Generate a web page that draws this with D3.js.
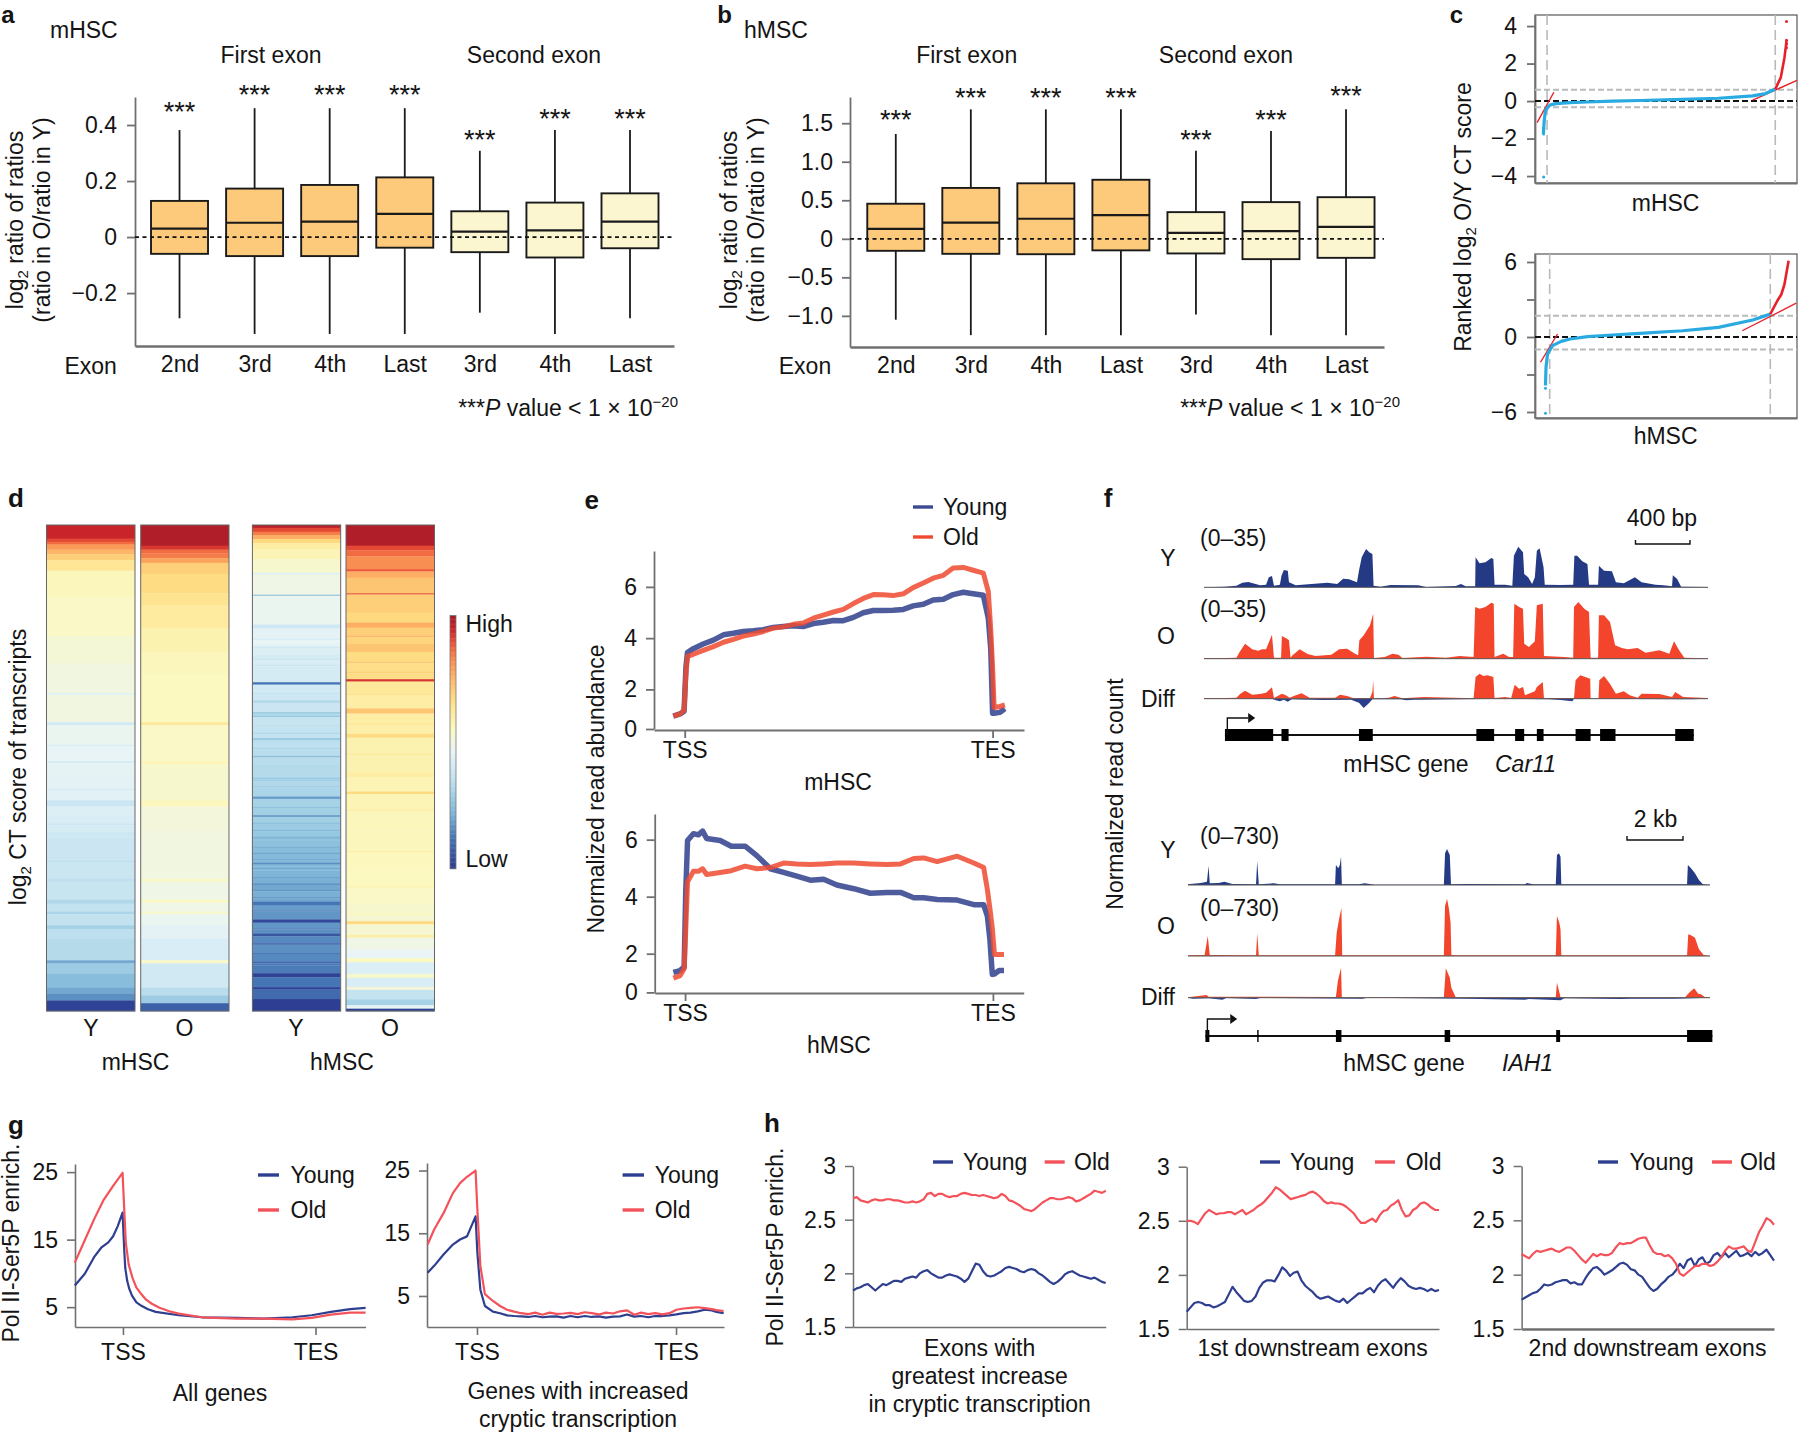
<!DOCTYPE html>
<html><head><meta charset="utf-8">
<style>html,body{margin:0;padding:0;background:#fff}svg{display:block}text{font-family:"Liberation Sans",Arial,sans-serif;fill:#141414}</style>
<script src="https://cdn.jsdelivr.net/npm/d3@7/dist/d3.min.js"></script>
</head><body><script>
// ---------- panel a / b box statistics ----------
const exonLabels=["2nd","3rd","4th","Last","3rd","4th","Last"];
const aQ3=[.129,.173,.186,.213,.092,.123,.156];
const aMed=[.03,.051,.055,.083,.019,.024,.055];
const aQ1=[-.06,-.068,-.068,-.038,-.054,-.073,-.04];
const aHi=[.382,.46,.46,.46,.308,.382,.382];
const aLo=[-.29,-.346,-.346,-.346,-.27,-.346,-.29];
const aStar=[.468,.529,.529,.529,.368,.443,.443];
const aTicks=[-.2,0,.2,.4], aTickLabels=["−0.2","0","0.2","0.4"];
const bQ3=[.455,.66,.72,.766,.346,.476,.54];
const bMed=[.13,.21,.26,.307,.078,.1,.156];
const bQ1=[-.156,-.195,-.2,-.15,-.19,-.264,-.247];
const bHi=[1.36,1.68,1.68,1.68,1.143,1.4,1.68];
const bLo=[-1.05,-1.25,-1.25,-1.25,-.983,-1.25,-1.25];
const bStar=[1.62,1.905,1.905,1.905,1.36,1.62,1.93];
const bTicks=[-1,-.5,0,.5,1,1.5], bTickLabels=["−1.0","−0.5","0","0.5","1.0","1.5"];
// ---------- panel c ranked scores ----------
const cMX=[3.2,3.5,4,5,5.9,8,13.4,20,29.5,40,56.3,70,83.1,88,91.7];
const cMV=[-1.75,-1.06,-.52,-.3,-.2,-.14,-.08,-.05,0,.03,.09,.15,.28,.4,.64];
const cMRedX=[91.7,93.8,95.2,96], cMRedV=[.64,1.25,2.3,3.2];
const cMBlueDots=[[3.3,-4.05],[3.3,-1.75],[3.3,-1.6],[3.3,-1.45]];
const cMRedDots=[[96,4.25],[96,3.25],[96,3.05],[96,2.85]];
const cMTangents=[[[.8,-1.15],[7.2,.47]],[[83.1,.05],[100,1.1]]];
const cHX=[4,4.2,4.8,6.7,10,13.4,20,29.5,40,56.3,70,83.1,89.8];
const cHV=[-3.88,-2.42,-1.36,-.69,-.35,-.16,.03,.16,.29,.5,.77,1.36,1.83];
const cHRedX=[89.8,92.5,94,95.2,96.8], cHRedV=[1.83,2.9,3.4,4.2,6.1];
const cHBlueDots=[[4,-6.1],[4,-4.1]];
const cHTangents=[[[2.1,-2.02],[8.6,.24]],[[79.1,.5],[99.7,2.71]]];
// ---------- panel d heatmap runs: [row height, colour level 0..1] ----------
const dMY=[[35,.945],[8,.9],[7,.86],[13,.8],[12,.75],[15,.7],[27,.63],[68,.56],[100,.54],[70,.515],[75,.5],[5,.44],[70,.5],[8,.4],[50,.47],[4,.42],[38,.46],[5,.41],[35,.455],[30,.45],[4,.41],[26,.445],[16,.38],[24,.43],[20,.42],[4,.38],[16,.415],[15,.39],[60,.38],[3,.34],[42,.375],[10,.35],[45,.37],[10,.32],[20,.36],[7,.31],[28,.355],[10,.3],[25,.345],[55,.33],[8,.2],[27,.28],[35,.24],[15,.2],[18,.16],[27,.02]];
const dMO=[[53,.985],[10,.92],[10,.86],[12,.84],[12,.78],[28,.7],[50,.67],[30,.64],[60,.61],[60,.58],[60,.56],[120,.55],[8,.62],[92,.54],[8,.57],[92,.53],[16,.56],[64,.51],[120,.5],[10,.53],[45,.49],[7,.55],[23,.49],[7,.53],[28,.47],[35,.45],[55,.42],[8,.54],[62,.395],[20,.34],[20,.28],[20,.08]];
const dHY=[[7,.97],[10,.9],[8,.84],[10,.76],[10,.68],[15,.6],[25,.57],[35,.53],[5,.44],[5,.5],[45,.49],[3,.26],[72,.47],[10,.39],[25,.45],[4,.42],[6,.46],[10,.455],[4,.4],[16,.43],[10,.41],[4,.38],[12,.42],[4,.38],[40,.41],[6,.12],[20,.4],[3,.36],[16,.39],[7,.33],[23,.38],[4,.28],[5,.33],[4,.27],[20,.37],[3,.33],[16,.36],[3,.32],[10,.36],[5,.28],[5,.34],[15,.35],[3,.31],[17,.34],[4,.25],[20,.34],[3,.3],[27,.33],[4,.27],[3,.31],[3,.27],[12,.32],[3,.28],[23,.31],[6,.18],[20,.3],[3,.26],[18,.29],[4,.17],[15,.29],[3,.25],[15,.28],[3,.23],[14,.27],[5,.22],[5,.26],[15,.25],[3,.21],[12,.24],[3,.19],[12,.23],[3,.2],[7,.23],[5,.16],[5,.22],[3,.24],[3,.2],[4,.23],[15,.22],[3,.18],[14,.21],[4,.16],[12,.2],[4,.17],[15,.21],[3,.16],[8,.2],[10,.12],[12,.18],[3,.14],[20,.17],[8,.03],[14,.17],[3,.13],[10,.16],[7,.06],[18,.15],[3,.05],[20,.16],[3,.12],[19,.15],[5,.1],[5,.13],[20,.13],[10,.02],[25,.12],[6,.02],[24,.1],[30,.01]];
const dHO=[[53,.985],[12,.9],[15,.86],[33,.82],[6,.88],[16,.76],[40,.72],[3,.9],[47,.7],[25,.68],[13,.76],[20,.7],[4,.74],[18,.69],[20,.72],[25,.67],[4,.71],[22,.66],[4,.7],[15,.665],[6,.92],[30,.62],[4,.65],[35,.6],[13,.72],[25,.6],[4,.63],[23,.59],[10,.67],[40,.58],[4,.62],[46,.58],[10,.6],[38,.57],[6,.68],[40,.57],[4,.6],[52,.56],[50,.56],[4,.59],[46,.555],[40,.55],[4,.58],[41,.54],[25,.53],[4,.56],[16,.52],[8,.68],[27,.52],[7,.6],[30,.49],[23,.46],[10,.55],[30,.43],[10,.53],[23,.42],[8,.51],[24,.36],[15,.3],[5,.45],[4,.47],[6,.02]];
const heatStops=[0,.12,.22,.3,.36,.42,.46,.5,.55,.62,.68,.75,.82,.88,.94,1];
const heatColours=["#2b3990","#4575b4","#7fb6d8","#a6d2e6","#c4e3f0","#d8edf5","#e8f4f5","#f1f6e0","#fbf8c0","#fee99a","#fed980","#fdb567","#f98e52","#ee5b3a","#cc2529","#a51b29"];
// ---------- panel e metagene ----------
const eTopX=[-3.7,-1.5,-.2,.4,.9,2.8,6,9.3,12.6,15.8,19,22.3,25.5,28.8,32,35.3,38.5,41.8,45,48.3,51.5,54.8,58,61.3,64.5,67.7,71,74.2,77.5,80.7,84,87.2,90.5,93.7,97,98.6,99.4,100,100.5,102.4,104];
const eTopY=[.65,.76,.9,2.85,3.44,3.59,3.77,3.92,4.13,4.19,4.26,4.29,4.33,4.42,4.45,4.48,4.45,4.57,4.62,4.69,4.68,4.81,4.99,5.08,5.08,5.09,5.12,5.26,5.32,5.49,5.52,5.7,5.79,5.73,5.67,4.78,3.59,.8,.8,.84,1.03];
const eTopO=[.65,.76,.95,2.6,3.29,3.37,3.52,3.67,3.84,3.95,4.08,4.16,4.26,4.39,4.44,4.54,4.59,4.78,4.9,5.02,5.12,5.35,5.55,5.7,5.69,5.66,5.73,5.97,6.15,6.34,6.45,6.74,6.76,6.65,6.54,5.82,4.33,2.85,1.09,1.14,1.22];
const eBotX=[-3.8,-1.6,-.3,.2,.8,2.7,4.3,5.7,7,11.4,15,19.5,23.3,27.7,32,36.3,40.7,45,49.3,54.8,60.2,65.6,70,74.3,77.5,81.9,88.4,93.8,97,98.2,99,99.8,100.5,102,103.6];
const eBotY=[1.03,1.13,1.32,4.12,5.97,6.21,6.17,6.3,6.04,5.97,5.77,5.77,5.44,4.98,4.85,4.72,4.58,4.61,4.41,4.28,4.12,4.15,4.15,3.96,3.96,3.9,3.88,3.72,3.72,3.32,2.53,.93,.95,1.13,1.13];
const eBotO=[.74,.87,1.22,2.79,4.52,4.89,4.89,4.98,4.78,4.85,4.91,5.07,4.98,5.02,5.18,5.15,5.13,5.15,5.18,5.18,5.15,5.13,5.15,5.34,5.36,5.23,5.42,5.18,5.02,4.25,3.6,2.9,1.96,1.96,1.96];
// ---------- panel f coverage: [relative bin, signal] ----------
const fTopY=[[288,0],[340,2],[370,5],[385,14],[400,16],[430,6],[445,8],[452,30],[460,34],[465,5],[480,8],[484,35],[490,52],[500,50],[503,15],[520,6],[560,10],[600,14],[625,10],[640,26],[655,24],[675,15],[680,50],[687,90],[698,115],[706,105],[714,100],[717,5],[735,2],[760,7],[830,6],[850,1],[925,4],[938,10],[950,3],[974,3],[975,90],[985,72],[1000,75],[1015,88],[1020,85],[1023,8],[1050,8],[1068,5],[1072,95],[1083,122],[1095,105],[1098,40],[1108,30],[1118,10],[1125,30],[1130,110],[1137,117],[1147,60],[1150,8],[1190,7],[1222,8],[1225,95],[1232,95],[1245,78],[1258,70],[1262,8],[1285,8],[1287,65],[1300,50],[1320,48],[1330,15],[1350,12],[1378,30],[1395,15],[1430,8],[1450,6],[1472,3],[1474,36],[1485,25],[1495,2],[1563,1]];
const fTopO=[[288,2],[340,2],[370,3],[378,20],[392,45],[410,28],[425,24],[435,28],[445,28],[460,72],[465,3],[483,3],[485,68],[498,60],[503,55],[507,3],[512,10],[530,28],[550,14],[570,8],[610,12],[630,28],[650,30],[670,15],[678,10],[681,55],[692,70],[708,100],[716,135],[718,2],[745,5],[765,15],[780,12],[790,2],[850,6],[900,3],[935,8],[970,5],[974,155],[985,150],[1000,155],[1015,168],[1021,165],[1023,5],[1045,15],[1060,5],[1070,5],[1073,165],[1085,155],[1095,150],[1098,45],[1110,35],[1125,52],[1130,160],[1145,165],[1148,8],[1200,5],[1222,3],[1224,155],[1235,170],[1250,150],[1262,140],[1266,3],[1285,3],[1287,130],[1300,130],[1315,110],[1328,40],[1345,32],[1360,28],[1385,32],[1405,18],[1440,25],[1465,15],[1477,52],[1490,25],[1503,3],[1563,1]];
const fTopDiffUp=[[288,2],[340,2],[370,3],[380,15],[392,24],[410,12],[430,14],[445,18],[460,34],[465,2],[485,15],[495,10],[505,3],[515,8],[535,16],[555,3],[620,3],[632,12],[650,8],[665,2],[708,2],[714,20],[716,55],[718,0],[755,3],[770,8],[790,1],[845,5],[970,1],[975,65],[985,75],[995,68],[1005,70],[1020,65],[1023,2],[1050,5],[1065,2],[1074,42],[1085,30],[1095,35],[1100,10],[1125,22],[1130,35],[1145,50],[1148,2],[1224,2],[1228,55],[1240,70],[1265,60],[1266,1],[1286,1],[1288,55],[1300,68],[1315,45],[1330,15],[1350,22],[1365,10],[1385,3],[1395,15],[1440,14],[1472,5],[1480,20],[1500,5],[1563,2]];
const fTopDiffDown=[[460,0],[470,-5],[480,-8],[490,-3],[500,-9],[510,-2],[560,-3],[590,-4],[660,-3],[680,-12],[692,-28],[705,-14],[714,-2],[785,-2],[800,-5],[820,-3],[1050,0],[1160,-2],[1190,-4],[1220,-8],[1224,0],[1520,-2],[1563,0]];
const fTopExons=[[341,463],[484,502],[680,715],[977,1022],[1075,1098],[1130,1147],[1228,1266],[1290,1329],[1480,1527]];
const fBotY=[[248,2],[280,6],[290,8],[296,10],[300,58],[303,5],[325,6],[340,10],[360,3],[420,2],[423,72],[427,2],[465,5],[480,2],[620,2],[622,60],[628,50],[632,60],[635,85],[637,2],[680,2],[695,5],[720,1],[895,1],[898,95],[903,108],[910,90],[913,2],[950,3],[1100,2],[1105,6],[1120,2],[1178,2],[1181,90],[1186,95],[1190,85],[1192,2],[1510,2],[1512,60],[1520,50],[1530,35],[1540,15],[1550,2],[1568,1]];
const fBotO=[[248,2],[290,3],[298,60],[303,3],[420,2],[423,68],[427,2],[620,2],[624,70],[630,110],[636,145],[638,2],[895,2],[898,150],[903,172],[908,140],[912,100],[914,3],[925,2],[1178,2],[1181,120],[1187,100],[1190,80],[1192,2],[1510,2],[1513,65],[1520,62],[1530,55],[1540,20],[1552,3],[1568,1]];
const fBotDiffUp=[[248,1],[295,8],[300,3],[380,3],[622,2],[627,50],[635,90],[637,1],[895,1],[900,88],[910,60],[914,30],[925,1],[1178,1],[1181,45],[1188,12],[1190,1],[1505,1],[1515,15],[1528,28],[1538,12],[1545,10],[1555,2],[1568,1]];
const fBotDiffDown=[[248,0],[260,-3],[300,-2],[335,-6],[345,-1],[420,-4],[430,-1],[690,-3],[700,0],[950,-3],[1100,-6],[1110,-4],[1190,-8],[1200,-2],[1340,-4],[1370,-3],[1480,-3],[1568,0]];
const fBotExons=[[292,302],[423,426],[622,636],[897,911],[1179,1189],[1510,1574]];
// ---------- panel g ----------
const g1XO=[-25,-20,-15,-10,-5,-.2,.7,1.5,3,5,7,9.6,12,15,19,24,29,41,59,73,88,98,108,118,126];
const g1O=[11.6,14.8,18,20.9,23,24.9,19.2,14.5,11.3,9.3,7.9,6.9,6.1,5.5,4.9,4.4,4.05,3.5,3.3,3.3,3.2,3.4,3.9,4.2,4.2];
const g1XY=[-25,-19.9,-15,-11.3,-7.6,-5.1,-2.7,-.2,.7,1.2,2.2,3.3,4.7,7,9.6,13,17,29,41,59,73,88,98,108,118,126];
const g1Y=[8.2,9.9,12.4,13.8,14.6,15.5,17,19,13.3,10.8,8.9,7.7,6.7,5.7,5.2,4.7,4.3,3.8,3.5,3.4,3.3,3.5,3.8,4.3,4.7,4.9];
const g2X=[-24.8,-21.5,-16.8,-12.1,-8.5,-5,-.7,.2,1.7,4,8,11.6,15.1,18.7,22.2,25.8,29.3,32.9,36.4,40,43.5,47,50.6,54.1,57.7,61.2,64.8,68.3,71.9,75.4,79,82.5,86,89.6,93.1,96.7,100.2,103.8,107.3,110.9,114.4,118,120.3,123.9];
const g2O=[13.2,15.6,18.2,21.4,23,24,25,18.8,9.8,5.3,4.2,3.4,2.8,2.5,2.25,2.1,2.35,2,2.35,2.15,2.2,2.3,2.1,2.4,2.25,2.05,2.35,2.2,2.55,2.7,2,2.35,2.1,2.25,2.05,2.25,2.8,3,3.1,3.2,3.05,2.9,2.75,2.6];
const g2Y=[8.7,9.8,11.6,13.2,14,14.5,17.7,11.9,6,3.4,2.5,2.25,1.9,1.8,1.75,1.65,1.8,1.6,1.7,1.75,1.55,1.8,1.6,1.8,1.65,1.75,1.55,1.7,1.75,2.05,1.7,1.8,1.6,1.8,1.8,1.9,2.05,2.25,2.35,2.55,2.8,2.7,2.45,2.25];
// ---------- panel h: evenly spaced bins across the exon window ----------
const h1O=[2.70,2.71,2.68,2.67,2.66,2.68,2.69,2.68,2.68,2.69,2.69,2.68,2.68,2.67,2.66,2.66,2.67,2.66,2.67,2.69,2.74,2.75,2.72,2.74,2.74,2.72,2.71,2.72,2.72,2.74,2.75,2.74,2.73,2.73,2.72,2.73,2.72,2.71,2.70,2.71,2.74,2.72,2.68,2.67,2.65,2.63,2.60,2.59,2.58,2.60,2.63,2.66,2.68,2.70,2.70,2.69,2.69,2.70,2.71,2.70,2.67,2.68,2.70,2.72,2.74,2.77,2.76,2.75,2.77];
const h1Y=[1.84,1.86,1.87,1.89,1.90,1.87,1.84,1.87,1.90,1.89,1.91,1.93,1.93,1.92,1.95,1.96,1.97,1.96,2.00,2.02,2.03,2.00,1.98,1.96,1.96,1.98,1.99,1.98,1.97,1.95,1.92,1.95,2.02,2.09,2.08,2.02,1.98,1.97,1.98,2.00,2.02,2.05,2.06,2.05,2.04,2.02,2.01,2.03,2.04,2.03,2.00,1.98,1.95,1.92,1.90,1.92,1.95,1.99,2.01,2.02,2.00,1.98,1.97,1.96,1.95,1.96,1.94,1.92,1.91];
const h2O=[2.50,2.50,2.49,2.47,2.52,2.57,2.60,2.58,2.56,2.57,2.57,2.58,2.58,2.56,2.58,2.60,2.56,2.58,2.60,2.63,2.65,2.68,2.72,2.76,2.81,2.79,2.76,2.73,2.70,2.71,2.72,2.73,2.74,2.76,2.77,2.75,2.72,2.68,2.66,2.67,2.66,2.66,2.65,2.63,2.60,2.57,2.52,2.48,2.48,2.50,2.52,2.49,2.55,2.59,2.60,2.64,2.66,2.69,2.60,2.54,2.55,2.60,2.62,2.66,2.67,2.65,2.62,2.60,2.60];
const h2Y=[1.66,1.70,1.74,1.75,1.74,1.72,1.72,1.70,1.71,1.73,1.75,1.82,1.89,1.84,1.80,1.76,1.75,1.76,1.80,1.88,1.93,1.95,1.95,1.94,2.00,2.07,2.04,1.99,2.02,2.03,1.95,1.90,1.87,1.84,1.80,1.78,1.79,1.80,1.78,1.76,1.75,1.78,1.74,1.77,1.80,1.83,1.83,1.86,1.88,1.84,1.90,1.94,1.96,1.92,1.88,1.93,1.97,1.94,1.90,1.88,1.87,1.88,1.87,1.85,1.87,1.85,1.86];
const h3O=[2.19,2.17,2.15,2.19,2.22,2.21,2.22,2.23,2.24,2.22,2.21,2.23,2.25,2.25,2.22,2.18,2.14,2.11,2.15,2.19,2.17,2.19,2.18,2.18,2.20,2.25,2.29,2.28,2.29,2.29,2.31,2.33,2.34,2.34,2.27,2.21,2.19,2.19,2.17,2.18,2.15,2.10,2.01,1.99,2.02,2.05,2.08,2.08,2.10,2.10,2.08,2.09,2.12,2.16,2.22,2.26,2.24,2.24,2.25,2.26,2.22,2.21,2.30,2.39,2.45,2.52,2.50,2.46];
const h3Y=[1.77,1.79,1.81,1.83,1.84,1.87,1.91,1.90,1.91,1.93,1.94,1.95,1.95,1.92,1.93,1.91,1.91,1.97,2.02,2.06,2.07,2.04,2.00,2.02,2.04,2.07,2.10,2.11,2.09,2.05,2.04,2.00,1.98,1.93,1.88,1.85,1.87,1.91,1.94,1.98,2.00,2.04,2.10,2.06,2.13,2.15,2.08,2.14,2.16,2.10,2.12,2.18,2.20,2.16,2.20,2.16,2.19,2.22,2.17,2.18,2.20,2.17,2.21,2.18,2.20,2.23,2.18,2.13];
const hTicks=[1.5,2,2.5,3], hTickLabels=["1.5","2","2.5","3"];

// ---------- drawing ----------
const W=1800,H=1433,FS=23;
const svg=d3.select("body").append("svg").attr("width",W).attr("height",H);
const AXC="#6f7072",NAVY="#2f3f8f",RED="#f2453a",PINK="#f4525a";
const zip=(a,b)=>a.map((d,i)=>[d,b[i]]);
function T(x,y,s,o={}){const t=svg.append("text").attr("x",x).attr("y",y).attr("dy",".33em")
  .attr("font-size",o.size||FS).attr("text-anchor",o.anchor||"middle");
  if(o.bold)t.attr("font-weight","bold"); if(o.italic)t.attr("font-style","italic");
  if(o.rot)t.attr("transform",`rotate(-90 ${x} ${y})`);
  if(s!=null)t.text(s); return t;}
function rich(t,parts){parts.forEach(p=>{const s=t.append("tspan").text(p.t);
  if(p.sub)s.attr("dy",p.dy).attr("font-size",p.sub);
  if(p.dy&&!p.sub)s.attr("dy",p.dy); if(p.i)s.attr("font-style","italic");});return t;}
function axL(x,y,vals,labs,pad,len=8,w=1.8){const g=svg.append("g").attr("transform",`translate(${x},0)`)
  .call(d3.axisLeft(y).tickValues(vals).tickFormat((d,i)=>labs[i]).tickSize(len).tickSizeOuter(0).tickPadding(pad));
  g.selectAll("path,line").attr("stroke",AXC).attr("stroke-width",w);
  g.selectAll("text").attr("font-size",FS).attr("font-family",'"Liberation Sans",Arial,sans-serif').attr("fill","#141414");return g;}
function axB(y0,x,vals,labs,pad,len=8,w=1.8){const g=svg.append("g").attr("transform",`translate(0,${y0})`)
  .call(d3.axisBottom(x).tickValues(vals).tickFormat((d,i)=>labs[i]).tickSize(len).tickSizeOuter(0).tickPadding(pad));
  g.selectAll("path,line").attr("stroke",AXC).attr("stroke-width",w);
  g.selectAll("text").attr("font-size",FS).attr("font-family",'"Liberation Sans",Arial,sans-serif').attr("fill","#141414");return g;}
function lineOf(x,y,pts,col,w,op=1){svg.append("path").attr("d",d3.line().x(d=>x(d[0])).y(d=>y(d[1]))(pts))
  .attr("fill","none").attr("stroke",col).attr("stroke-width",w).attr("stroke-linejoin","round").attr("opacity",op);}

// ---- a, b ----
function boxes(c){
  const x=d3.scaleLinear().domain(c.xd).range(c.xr), y=d3.scaleLinear().domain(c.yd).range(c.yr);
  axL(c.xr[0],y,c.ticks,c.labs,c.pad);
  axB(c.yr[0],x,d3.range(7),exonLabels,10,0,2.4);
  const z=svg.append("g");
  c.q3.forEach((q,i)=>{
    const cx=x(i),col=i<4?"#fdc97a":"#fbf6cf";
    z.append("line").attr("x1",cx).attr("x2",cx).attr("y1",y(c.hi[i])).attr("y2",y(c.lo[i])).attr("stroke","#1a1a1a").attr("stroke-width",1.8);
    z.append("rect").attr("x",cx-28.5).attr("width",57).attr("y",y(q)).attr("height",y(c.q1[i])-y(q)).attr("fill",col).attr("stroke","#1a1a1a").attr("stroke-width",1.9);
    z.append("line").attr("x1",cx-28.5).attr("x2",cx+28.5).attr("y1",y(c.med[i])).attr("y2",y(c.med[i])).attr("stroke","#1a1a1a").attr("stroke-width",2.2);
    T(cx,y(c.star[i])+6,"***",{size:27});
  });
  svg.append("line").attr("x1",c.xr[0]).attr("x2",c.xr[1]).attr("y1",y(0)).attr("y2",y(0)).attr("stroke","#111").attr("stroke-width",1.8).attr("stroke-dasharray","4 3.5");
}
boxes({xd:[-.593,6.586],xr:[135,674],yd:[-.389,.5],yr:[346,97],ticks:aTicks,labs:aTickLabels,pad:10,q3:aQ3,med:aMed,q1:aQ1,hi:aHi,lo:aLo,star:aStar});
boxes({xd:[-.61,6.506],xr:[850,1384],yd:[-1.404,1.84],yr:[347,97],ticks:bTicks,labs:bTickLabels,pad:9,q3:bQ3,med:bMed,q1:bQ1,hi:bHi,lo:bLo,star:bStar});
function hdr(letter,lx,name,nx,fx,sx,ex,px,l1,l2){
  T(lx,15,letter,{size:24,bold:true});
  T(nx,30,name,{anchor:"start"});
  T(fx,55,"First exon");T(sx,55,"Second exon");T(ex,366,"Exon");
  rich(T(px,408,null,{anchor:"end"}),[{t:"***"},{t:"P",i:1},{t:" value < 1 × 10"},{t:"−20",sub:15,dy:"-.55em"}]);
  rich(T(l1,220,null,{rot:1}),[{t:"log"},{t:"2",sub:15,dy:"5"},{t:" ratio of ratios",dy:"-5"}]);
  T(l2,220,"(ratio in O/ratio in Y)",{rot:1});
}
hdr("a",8,"mHSC",50,271,534,90.6,678,15.6,42);
hdr("b",724.6,"hMSC",744,966.7,1226,805,1400,729.5,756);

// ---- c ----
function rankPanel(c){
  const x=d3.scaleLinear().domain([0,100]).range([1535,1797]), y=d3.scaleLinear().domain(c.yd).range(c.yr);
  svg.append("rect").attr("x",1535).attr("y",c.yr[1]).attr("width",262).attr("height",c.yr[0]-c.yr[1]).attr("fill","#fff").attr("stroke","#55575a").attr("stroke-width",1.2);
  axL(1535,y,c.ticks,c.labs,10,8,1.8);
  axB(c.yr[0],x,[],[],0,0,2.2);
  c.v.forEach(v=>svg.append("line").attr("x1",x(v)).attr("x2",x(v)).attr("y1",c.yr[1]).attr("y2",c.yr[0]).attr("stroke","#b9babc").attr("stroke-width",1.6).attr("stroke-dasharray","10 5"));
  c.h.forEach(v=>svg.append("line").attr("x1",1535).attr("x2",1797).attr("y1",y(v)).attr("y2",y(v)).attr("stroke","#b9babc").attr("stroke-width",2).attr("stroke-dasharray","6 3"));
  svg.append("line").attr("x1",1535).attr("x2",1797).attr("y1",y(0)).attr("y2",y(0)).attr("stroke","#111").attr("stroke-width",2).attr("stroke-dasharray","6 3");
  c.tan.forEach(t=>lineOf(x,y,t,"#e8202a",1.4));
  lineOf(x,y,c.blue,"#29abe2",3.2);
  lineOf(x,y,c.red,"#e8202a",2.6);
  c.bd.forEach(d=>svg.append("circle").attr("cx",x(d[0])).attr("cy",y(d[1])).attr("r",1.5).attr("fill","#29abe2"));
  c.rd.forEach(d=>svg.append("circle").attr("cx",x(d[0])).attr("cy",y(d[1])).attr("r",1.5).attr("fill","#e8202a"));
}
rankPanel({yd:[-4.37,4.59],yr:[183,15],ticks:[-4,-2,0,2,4],labs:["−4","−2","0","2","4"],v:[4.6,91.7],h:[.6,-.33],blue:zip(cMX,cMV),red:zip(cMRedX,cMRedV),bd:cMBlueDots,rd:cMRedDots,tan:cMTangents});
rankPanel({yd:[-6.48,6.64],yr:[418,254],ticks:[-6,-3,0,3,6],labs:["−6","","0","","6"],v:[5.6,89.8],h:[1.7,-1],blue:zip(cHX,cHV),red:zip(cHRedX,cHRedV),bd:cHBlueDots,rd:[],tan:cHTangents});
T(1456.5,15,"c",{size:24,bold:true});
T(1665.6,203,"mHSC");T(1665.6,436,"hMSC");
rich(T(1463,217,null,{rot:1}),[{t:"Ranked log"},{t:"2",sub:15,dy:"5"},{t:" O/Y CT score",dy:"-5"}]);

// ---- d ----
const heat=d3.scaleLinear().domain(heatStops).range(heatColours).clamp(true);
function heatCol(x0,x1,runs){let c=0;
  const dY=d3.scaleLinear().domain([0,d3.sum(runs,d=>d[0])]).range([525,1011]);
  const g=svg.append("g");
  runs.forEach(r=>{g.append("rect").attr("x",x0).attr("width",x1-x0).attr("y",dY(c)).attr("height",dY(c+r[0])-dY(c)+.3).attr("fill",heat(r[1]));c+=r[0];});
  svg.append("rect").attr("x",x0).attr("y",525).attr("width",x1-x0).attr("height",486).attr("fill","none").attr("stroke","#666").attr("stroke-width",1);
}
heatCol(46.5,135,dMY);heatCol(140.7,229,dMO);heatCol(252.4,340.7,dHY);heatCol(346,434.5,dHO);
const cb=d3.scaleLinear().domain([1,0]).range([615.5,868.7]);
d3.range(0,1,.005).forEach(t=>svg.append("rect").attr("x",450).attr("width",6).attr("y",cb(t+.005)).attr("height",cb(t)-cb(t+.005)+.4).attr("fill",heat(t)));
svg.append("rect").attr("x",450).attr("y",615.5).attr("width",6).attr("height",253.2).attr("fill","none").attr("stroke","#777").attr("stroke-width",.8);
T(8,498,"d",{size:26,bold:true,anchor:"start"});
rich(T(18,767,null,{rot:1}),[{t:"log"},{t:"2",sub:15,dy:"5"},{t:" CT score of transcripts",dy:"-5"}]);
[[91,"Y"],[184.5,"O"],[296,"Y"],[390,"O"]].forEach(d=>T(d[0],1028,d[1]));
T(135.5,1062,"mHSC");T(342,1062,"hMSC");
T(465.5,624,"High",{anchor:"start"});T(465.5,859,"Low",{anchor:"start"});

// ---- e ----
function meta(c){
  const x=d3.scaleLinear().domain(c.xd).range(c.xr);
  const y=d3.scaleLinear().domain(c.yd).range(c.yr);
  axL(c.xr[0],y,[0,2,4,6],["0","2","4","6"],9,8,1.8);
  axB(c.b,x,[0,100],["TSS","TES"],3.5,8,1.8);
  lineOf(x,y,zip(c.X,c.Y),"#3f4e96",5.5,.92);
  lineOf(x,y,zip(c.X,c.O),"#ef4a30",5,.85);
}
meta({xd:[-9.97,110.2],xr:[654,1024],yd:[0,2,7.4],yr:[729,689.4,551],b:730,X:eTopX,Y:eTopY,O:eTopO});
meta({xd:[-9.87,110],xr:[654.7,1023.7],yd:[0,2,6.9],yr:[992.4,953.7,814],b:993,X:eBotX,Y:eBotY,O:eBotO});
T(591.7,500,"e",{size:26,bold:true});
T(596.7,789,"Normalized read abundance",{rot:1});
T(838,782.6,"mHSC");T(839,1045.8,"hMSC");
function legend(x1,x2,tx,ty,label,col,w=3.4){svg.append("line").attr("x1",x1).attr("x2",x2).attr("y1",ty).attr("y2",ty).attr("stroke",col).attr("stroke-width",w);T(tx,ty,label,{anchor:"start"});}
legend(913,933,943,507,"Young","#3b4a92");legend(913,933,943,537,"Old","#ef4a30");

// ---- f ----
function track(c){
  const x=d3.scaleLinear().domain(c.xd).range(c.xr);
  const y=d3.scaleLinear().domain([0,172]).range([c.base,c.base-172/3]);
  const area=d3.area().x(d=>x(d[0])).y0(y(0)).y1(d=>y(d[1]));
  if(c.down)svg.append("path").attr("d",area(c.down)).attr("fill","#2a3f8c");
  svg.append("path").attr("d",area(c.data)).attr("fill",c.col);
  svg.append("line").attr("x1",c.xr[0]).attr("x2",c.xr[1]).attr("y1",c.base).attr("y2",c.base).attr("stroke","#555").attr("stroke-width",1);
}
function gene(c){
  const x=d3.scaleLinear().domain(c.xd).range(c.xr);
  svg.append("line").attr("x1",x(c.ex[0][0])).attr("x2",x(c.ex[c.ex.length-1][1])).attr("y1",c.y).attr("y2",c.y).attr("stroke","#111").attr("stroke-width",1.8);
  c.ex.forEach(e=>svg.append("rect").attr("x",x(e[0])).attr("width",Math.max(x(e[1])-x(e[0]),1.4)).attr("y",c.y-6).attr("height",12).attr("fill","#000"));
  const ax=x(c.tss),ay=c.y-17,ex=x(c.arrow);
  svg.append("path").attr("d",`M${ax},${c.y}V${ay}H${ex-6}`).attr("fill","none").attr("stroke","#111").attr("stroke-width",1.4);
  svg.append("path").attr("d",`M${ex-6},${ay-5}L${ex+1},${ay}L${ex-6},${ay+5}Z`).attr("fill","#111");
}
const fTX=[288,1563],fTR=[1204,1708],fBX=[248,1568],fBR=[1188,1710];
track({xd:fTX,xr:fTR,base:587.3,data:fTopY,col:"#253a85"});
track({xd:fTX,xr:fTR,base:658.7,data:fTopO,col:"#f2452b"});
track({xd:fTX,xr:fTR,base:698.7,data:fTopDiffUp,down:fTopDiffDown,col:"#f2452b"});
track({xd:fBX,xr:fBR,base:885,data:fBotY,col:"#253a85"});
track({xd:fBX,xr:fBR,base:956,data:fBotO,col:"#f2452b"});
track({xd:fBX,xr:fBR,base:997.7,data:fBotDiffUp,down:fBotDiffDown,col:"#f2452b"});
gene({xd:fTX,xr:fTR,y:735,ex:fTopExons,tss:347,arrow:415});
gene({xd:fBX,xr:fBR,y:1036,ex:fBotExons,tss:297,arrow:370});
function bracket(x1,x2,y){svg.append("path").attr("d",`M${x1},${y-4}V${y}H${x2}V${y-4}`).attr("fill","none").attr("stroke","#111").attr("stroke-width",1.4);}
bracket(1635.5,1690,544);bracket(1627,1683,840);
T(1108,498,"f",{size:26,bold:true});
T(1115.7,794,"Normalized read count",{rot:1});
T(1200,538,"(0–35)",{anchor:"start"});T(1200,609,"(0–35)",{anchor:"start"});
T(1168,558,"Y");T(1166,636,"O");T(1175,699,"Diff",{anchor:"end"});
T(1662,518,"400 bp");T(1406,764,"mHSC gene");T(1495,764,"Car11",{anchor:"start",italic:true});
T(1200,836,"(0–730)",{anchor:"start"});T(1200,908,"(0–730)",{anchor:"start"});
T(1168,850,"Y");T(1166,926,"O");T(1175,997,"Diff",{anchor:"end"});
T(1655.6,819,"2 kb");T(1404,1063,"hMSC gene");T(1502,1063,"IAH1",{anchor:"start",italic:true});

// ---- g ----
function enr(c){
  const x=d3.scaleLinear().domain(c.xd).range(c.xr);
  const y=d3.scaleLinear().domain(c.yd).range(c.yr);
  axL(c.xr[0],y,[5,15,25],["5","15","25"],9,8,1.6);
  axB(c.yr[0],x,[0,100],["TSS","TES"],9,8,1.6);
  lineOf(x,y,zip(c.XY,c.Y),NAVY,2.2);
  lineOf(x,y,zip(c.XO,c.O),PINK,2.2);
}
enr({xd:[-24.9,126],xr:[75,365.6],yd:[2.06,26.2],yr:[1327,1164],XY:g1XY,Y:g1Y,XO:g1XO,O:g1O});
enr({xd:[-25.1,124.1],xr:[427,724],yd:[.05,26.2],yr:[1327,1163],XY:g2X,Y:g2Y,XO:g2X,O:g2O});
T(8,1125,"g",{size:26,bold:true,anchor:"start"});
T(11,1243,"Pol II-Ser5P enrich.",{rot:1});
T(220,1393,"All genes");T(578,1391,"Genes with increased");T(578,1419,"cryptic transcription");
legend(258,279,290.5,1175,"Young",NAVY);legend(258,279,290.5,1210,"Old",PINK);
legend(622.6,644,654.7,1175,"Young",NAVY);legend(622.6,644,654.7,1210,"Old",PINK);

// ---- h ----
function hp(c){
  const x=d3.scaleLinear().domain([0,100]).range(c.xr);
  const y=d3.scaleLinear().domain([1.5,3]).range(c.yr);
  axL(c.xr[0],y,hTicks,hTickLabels,9,8,1.5);
  axB(c.yr[0],x,[],[],0,0,c.w||1.6);
  const bins=a=>a.map((v,i)=>[i/(a.length-1)*100,v]);
  lineOf(x,y,bins(c.Y),NAVY,2.2);
  lineOf(x,y,bins(c.O),PINK,2.2);
  legend(c.l[0],c.l[0]+20,c.l[1],1162,"Young",NAVY);
  legend(c.l[2],c.l[2]+20,c.l[3],1162,"Old",PINK);
}
hp({xr:[853,1105.7],yr:[1327,1166],Y:h1Y,O:h1O,l:[933,963,1044.7,1074]});
hp({xr:[1186.7,1439],yr:[1329,1166.7],Y:h2Y,O:h2O,l:[1260,1290,1375,1405.7]});
hp({xr:[1521.6,1774],yr:[1329,1166],Y:h3Y,O:h3O,l:[1598,1629.4,1712,1740],w:2.6});
T(772,1123,"h",{size:26,bold:true});
T(775.5,1247,"Pol II-Ser5P enrich.",{rot:1});
T(979.7,1348,"Exons with");T(979.7,1376,"greatest increase");T(979.7,1404,"in cryptic transcription");
T(1312.6,1348,"1st downstream exons");T(1647.5,1348,"2nd downstream exons");
</script></body></html>
